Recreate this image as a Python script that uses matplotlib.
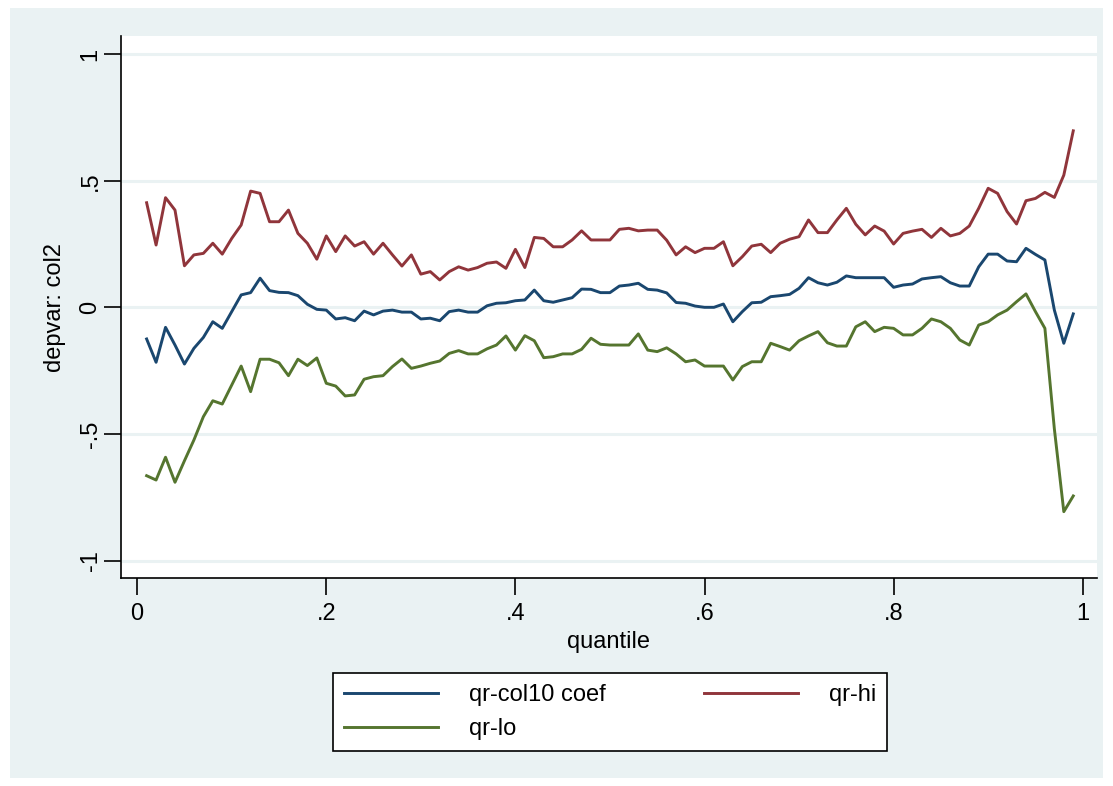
import matplotlib
matplotlib.use("Agg")
import matplotlib.pyplot as plt
from matplotlib.patches import Rectangle
import numpy as np

# Quantile grid and coefficient estimates
quantiles = np.round(np.arange(1, 100) / 100, 2)

qr_coef = [
    -0.125, -0.217, -0.079, -0.149, -0.224, -0.162, -0.119, -0.057, -0.083, -0.017,
    0.049, 0.058, 0.115, 0.066, 0.059, 0.058, 0.046, 0.012, -0.008, -0.011,
    -0.046, -0.041, -0.053, -0.015, -0.030, -0.015, -0.011, -0.019, -0.019, -0.046,
    -0.043, -0.053, -0.017, -0.011, -0.019, -0.019, 0.006, 0.016, 0.018, 0.026,
    0.029, 0.068, 0.026, 0.020, 0.029, 0.038, 0.072, 0.071, 0.058, 0.058,
    0.084, 0.088, 0.095, 0.071, 0.068, 0.057, 0.019, 0.016, 0.005, 0.000,
    0.000, 0.013, -0.057, -0.017, 0.018, 0.020, 0.042, 0.046, 0.051, 0.075,
    0.117, 0.097, 0.088, 0.099, 0.124, 0.117, 0.117, 0.117, 0.117, 0.079,
    0.088, 0.092, 0.112, 0.117, 0.121, 0.097, 0.084, 0.084, 0.160, 0.210,
    0.210, 0.183, 0.180, 0.233, 0.209, 0.187, -0.011, -0.142, -0.026,
]

qr_hi = [
    0.413, 0.246, 0.433, 0.384, 0.164, 0.207, 0.213, 0.253, 0.210, 0.272,
    0.325, 0.459, 0.450, 0.338, 0.338, 0.384, 0.292, 0.253, 0.190, 0.282,
    0.220, 0.282, 0.242, 0.259, 0.210, 0.253, 0.207, 0.163, 0.207, 0.131,
    0.141, 0.108, 0.141, 0.160, 0.147, 0.157, 0.174, 0.179, 0.154, 0.229,
    0.157, 0.276, 0.272, 0.239, 0.239, 0.266, 0.302, 0.266, 0.266, 0.266,
    0.308, 0.312, 0.302, 0.305, 0.305, 0.265, 0.207, 0.239, 0.216, 0.233,
    0.233, 0.259, 0.164, 0.200, 0.242, 0.249, 0.216, 0.253, 0.269, 0.279,
    0.345, 0.295, 0.295, 0.345, 0.391, 0.328, 0.286, 0.321, 0.301, 0.250,
    0.292, 0.301, 0.308, 0.276, 0.312, 0.282, 0.292, 0.321, 0.391, 0.470,
    0.450, 0.378, 0.329, 0.421, 0.430, 0.454, 0.434, 0.522, 0.697,
]

qr_lo = [
    -0.665, -0.682, -0.592, -0.691, -0.606, -0.524, -0.432, -0.369, -0.382, -0.307,
    -0.232, -0.333, -0.205, -0.205, -0.219, -0.270, -0.205, -0.230, -0.200, -0.300,
    -0.311, -0.350, -0.346, -0.284, -0.274, -0.270, -0.234, -0.204, -0.241, -0.232,
    -0.221, -0.212, -0.182, -0.171, -0.184, -0.184, -0.164, -0.149, -0.113, -0.169,
    -0.112, -0.132, -0.199, -0.195, -0.184, -0.184, -0.166, -0.122, -0.146, -0.149,
    -0.149, -0.149, -0.105, -0.169, -0.175, -0.160, -0.184, -0.215, -0.208, -0.232,
    -0.232, -0.232, -0.287, -0.234, -0.215, -0.215, -0.142, -0.155, -0.169, -0.132,
    -0.113, -0.096, -0.140, -0.153, -0.153, -0.077, -0.057, -0.096, -0.079, -0.083,
    -0.109, -0.109, -0.083, -0.046, -0.057, -0.083, -0.129, -0.149, -0.070, -0.057,
    -0.030, -0.011, 0.022, 0.053, -0.017, -0.083, -0.480, -0.807, -0.745,
]

x_ticks = [0, 0.2, 0.4, 0.6, 0.8, 1.0]
x_ticklabels = ["0", ".2", ".4", ".6", ".8", "1"]
y_ticks = [-1, -0.5, 0, 0.5, 1]
y_ticklabels = ["-1", "-.5", "0", ".5", "1"]

# Stata s2color palette
BLUE = "#1A476F"
RED = "#90353B"
GREEN = "#55752F"
BG = "#EAF2F3"

plt.rcParams["font.family"] = ["Liberation Sans", "DejaVu Sans"]

W, H = 1113, 786
fig = plt.figure(figsize=(W / 100, H / 100), dpi=100)
fig.patch.set_facecolor("white")

# graph region (light blue-grey band around the plot)
fig.add_artist(Rectangle((10 / W, 8 / H), (1103 - 10) / W, (778 - 8) / H,
                         transform=fig.transFigure, facecolor=BG,
                         edgecolor="none", zorder=0))

ax = fig.add_axes([121 / W, (H - 578) / H, (1097 - 121) / W, (578 - 36) / H])
ax.set_facecolor("white")

for yv in y_ticks:
    ax.axhline(yv, color=BG, lw=2.2, zorder=1)

ax.plot(quantiles, qr_coef, color=BLUE, lw=2.1, label="qr-col10 coef", zorder=3)
ax.plot(quantiles, qr_lo, color=GREEN, lw=2.1, label="qr-lo", zorder=3)
ax.plot(quantiles, qr_hi, color=RED, lw=2.1, label="qr-hi", zorder=3)

ax.set_xlim(-0.0171, 1.0151)
ax.set_ylim(-1.069, 1.0715)

ax.set_xticks(x_ticks)
ax.set_xticklabels(x_ticklabels)
ax.set_yticks(y_ticks)
ax.set_yticklabels(y_ticklabels, rotation=90, va="center")

for side in ("top", "right"):
    ax.spines[side].set_visible(False)
for side in ("left", "bottom"):
    ax.spines[side].set_color("black")
    ax.spines[side].set_linewidth(1.2)

ax.tick_params(axis="both", direction="out", length=12, width=1.2,
               labelsize=17, colors="black")
ax.tick_params(axis="x", pad=6)
ax.tick_params(axis="y", pad=2)

ax.set_xlabel("quantile", fontsize=17, labelpad=4)
ax.set_ylabel("depvar: col2", fontsize=17, labelpad=10)

leg = ax.legend(loc="center", ncol=2, mode="expand",
                bbox_to_anchor=(333 / W, (H - 756) / H, (887 - 333) / W, (756 - 668) / H),
                bbox_transform=fig.transFigure, fontsize=17, frameon=True,
                fancybox=False, edgecolor="black", facecolor="white", framealpha=1,
                handlelength=4.0, handletextpad=1.3, borderpad=0.45,
                labelspacing=0.5, borderaxespad=0)
leg.get_frame().set_linewidth(1.2)

fig.savefig("out.png", dpi=100, facecolor=fig.get_facecolor())
